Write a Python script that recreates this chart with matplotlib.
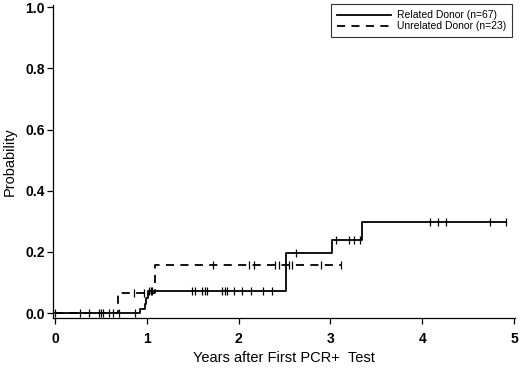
import matplotlib
matplotlib.use("Agg")
import matplotlib.pyplot as plt

plt.rcParams['font.family'] = ['Liberation Sans', 'DejaVu Sans']

# Related donor (n=67): step times and cumulative probability
rel_times = [0.0, 0.93, 0.98, 0.99, 1.01, 2.52, 3.02, 3.34, 4.91]
rel_probs = [0.0, 0.015, 0.030, 0.048, 0.072, 0.195, 0.238, 0.298, 0.298]
rel_cens_t = [0.0, 0.27, 0.37, 0.48, 0.50, 0.52, 0.59, 0.63, 0.70, 0.87,
              1.02, 1.04, 1.06, 1.49, 1.52, 1.60, 1.63, 1.66, 1.82, 1.85,
              1.87, 1.95, 2.04, 2.14, 2.27, 2.36,
              2.62,
              3.06, 3.20, 3.26, 3.32,
              4.08, 4.17, 4.26, 4.74, 4.91]

# Unrelated donor (n=23)
unr_times = [0.0, 0.69, 1.09, 3.11]
unr_probs = [0.0, 0.066, 0.157, 0.157]
unr_cens_t = [0.86, 0.97, 1.72, 2.11, 2.17, 2.40, 2.44, 2.55, 2.58, 2.90, 3.11]

x_ticks = [0, 1, 2, 3, 4, 5]
y_ticks = [0.0, 0.2, 0.4, 0.6, 0.8, 1.0]


def level_at(times, probs, t):
    p = probs[0]
    for ti, pi in zip(times, probs):
        if ti <= t:
            p = pi
    return p


fig = plt.figure(figsize=(5.2, 3.69), dpi=100)
ax = fig.add_axes([53 / 520, 1 - 318 / 369, 462 / 520, 313 / 369])

ax.step(rel_times, rel_probs, where='post', color='black', lw=1.3,
        label='Related Donor (n=67)')
ax.step(unr_times, unr_probs, where='post', color='black', lw=1.3,
        dashes=(4.5, 3.5), label='Unrelated Donor (n=23)')

# censoring marks
ax.plot(rel_cens_t, [level_at(rel_times, rel_probs, t) for t in rel_cens_t],
        ls='none', marker='|', ms=6, mew=0.9, color='black')
ax.plot(unr_cens_t, [level_at(unr_times, unr_probs, t) for t in unr_cens_t],
        ls='none', marker='|', ms=6, mew=0.9, color='black')

ax.set_xlim(-0.022, 5.01)
ax.set_ylim(-0.016, 1.007)
ax.set_xticks(x_ticks)
ax.set_yticks(y_ticks)
ax.set_xticklabels([str(v) for v in x_ticks], fontsize=10, fontweight='bold')
ax.set_yticklabels(['%.1f' % v for v in y_ticks], fontsize=10, fontweight='bold')
ax.tick_params(direction='out', length=4, width=0.9)
ax.tick_params(axis='x', pad=6)
ax.tick_params(axis='y', pad=2)

for s in ['top', 'right']:
    ax.spines[s].set_visible(False)
for s in ['left', 'bottom']:
    ax.spines[s].set_linewidth(0.9)

ax.set_xlabel('Years after First PCR+  Test', fontsize=10.5, labelpad=4)
ax.set_ylabel('Probability', fontsize=10.5, labelpad=6)

leg = ax.legend(loc='upper right', bbox_to_anchor=(1.005, 1.02), fontsize=7.5,
                frameon=True, fancybox=False, handlelength=5.2,
                borderpad=0.6, labelspacing=0.1, handletextpad=0.5)
leg.get_frame().set_edgecolor('black')
leg.get_frame().set_linewidth(0.8)

fig.savefig('out.png', dpi=100)
